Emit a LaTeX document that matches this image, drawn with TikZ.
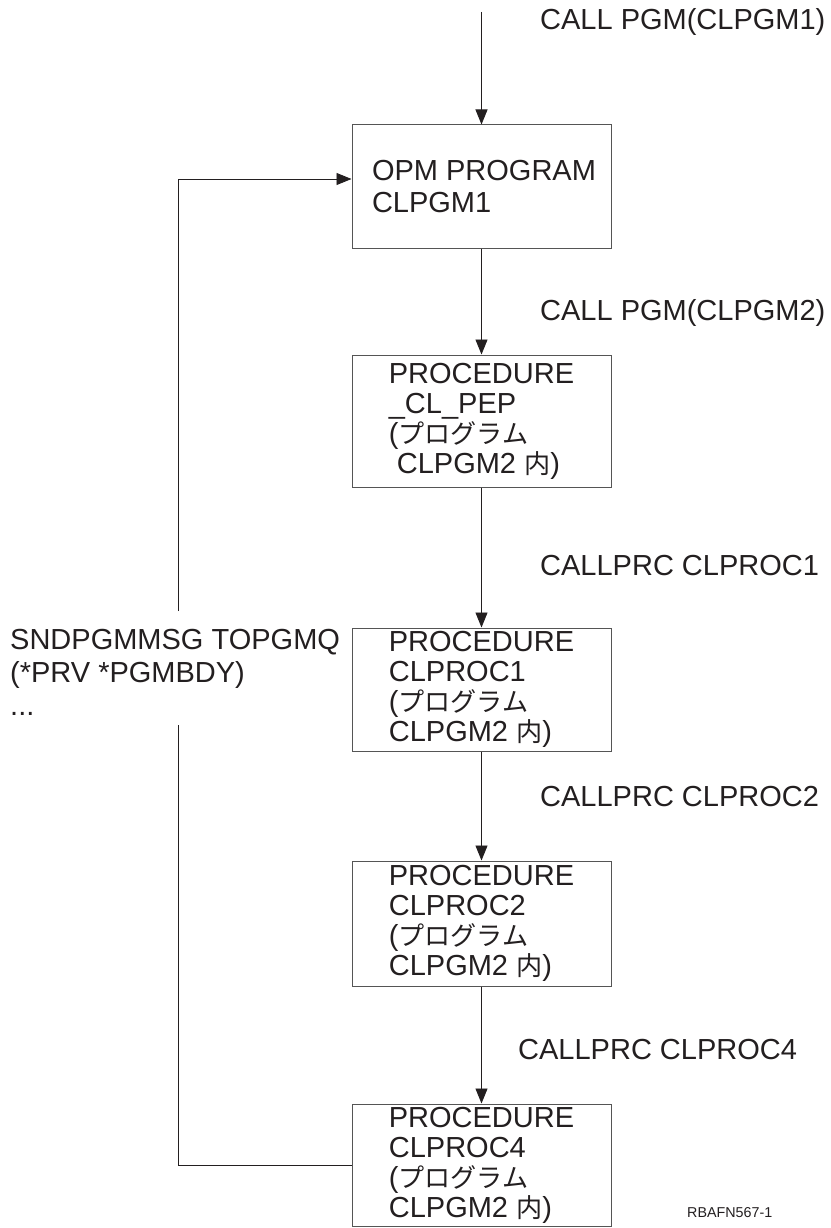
\documentclass[tikz,border=0pt]{standalone}
\usepackage{fontspec}
\setmainfont{Liberation Sans}
\newfontfamily\cjk[Scale=0.9]{Noto Sans CJK JP}
\usetikzlibrary{arrows.meta}
\definecolor{ink}{HTML}{231F20}
\definecolor{edge}{HTML}{555555}
\begin{document}
\begin{tikzpicture}[x=1pt,y=-1pt,
  txt/.style={font=\fontsize{29}{33}\selectfont, text=ink, inner sep=0pt},
  box/.style={draw=edge, line width=1pt, minimum width=259pt, align=left,
    font=\fontsize{29}{30}\selectfont, text=ink, inner sep=0pt},
  conn/.style={draw=ink, line width=0.9pt},
  arr/.style={conn, -{Triangle[length=15pt,width=12pt]}}]
\useasboundingbox (0,0) rectangle (830,1228);
\fill[white] (0,0) rectangle (830,1228);
% boxes
\node[box, minimum height=123pt, font=\fontsize{29}{32}\selectfont] (b1) at (481.5,186.5) {\hspace*{5pt}OPM PROGRAM\\\hspace*{5pt}CLPGM1};
\node[box, minimum height=132pt] (b2) at (481.5,421) {PROCEDURE\\\_CL\_PEP\\({\cjk プログラム}\\\hspace*{8pt}CLPGM2 {\cjk 内})};
\node[box, minimum height=123pt] (b3) at (481.5,689.5) {PROCEDURE\\CLPROC1\\({\cjk プログラム}\\CLPGM2 {\cjk 内})};
\node[box, minimum height=125pt] (b4) at (481.5,923.5) {PROCEDURE\\CLPROC2\\({\cjk プログラム}\\CLPGM2 {\cjk 内})};
\node[box, minimum height=122pt] (b5) at (481.5,1165) {PROCEDURE\\CLPROC4\\({\cjk プログラム}\\CLPGM2 {\cjk 内})};
% labels
\node[txt, anchor=west] (l1) at (540,22) {CALL PGM(CLPGM1)};
\node[txt, anchor=west] (l2) at (540,313) {CALL PGM(CLPGM2)};
\node[txt, anchor=west] (l3) at (540,566) {CALLPRC CLPROC1};
\node[txt, anchor=west] (l4) at (540,797) {CALLPRC CLPROC2};
\node[txt, anchor=west] (l5) at (518,1050) {CALLPRC CLPROC4};
\node[txt, anchor=west, align=left] (msg) at (10,672) {SNDPGMMSG TOPGMQ\\(*PRV *PGMBDY)\\...};
\node[font=\fontsize{14.3}{16}\selectfont, text=ink, inner sep=0pt, anchor=west] (ref) at (687,1213) {RBAFN567-1};
% connectors
\coordinate (top) at (481.5,12);
\coordinate (g1) at (178,725);
\coordinate (g2) at (178,611);
\draw[arr] (top) -- (b1.north);
\draw[arr] (b1.south) -- (b2.north);
\draw[arr] (b2.south) -- (b3.north);
\draw[arr] (b3.south) -- (b4.north);
\draw[arr] (b4.south) -- (b5.north);
\draw[conn] (b5.west) -| (g1);
\draw[arr] (g2) |- ([yshift=7.5pt]b1.west);
\end{tikzpicture}
\end{document}
